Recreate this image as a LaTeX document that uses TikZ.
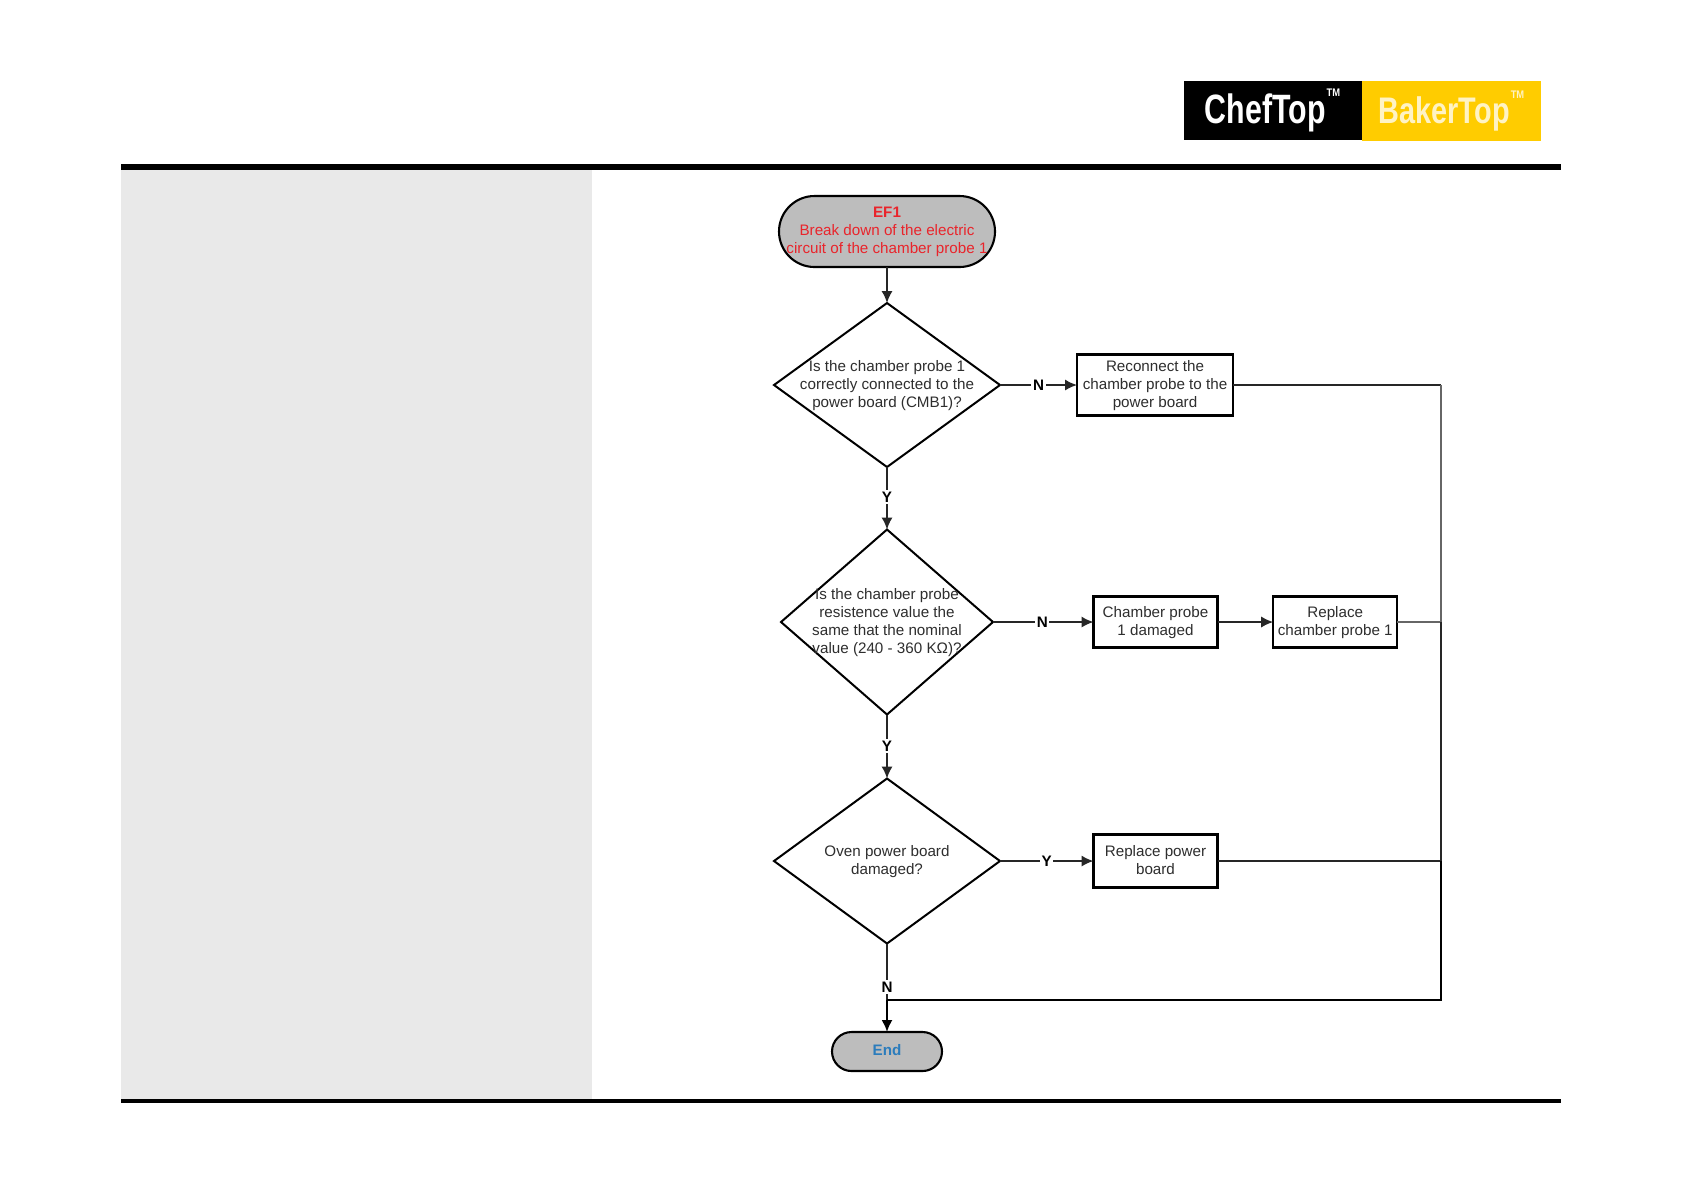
\documentclass[tikz,border=0pt]{standalone}
\usepackage{fontspec}
\setmainfont{Liberation Sans}
\usetikzlibrary{shapes.geometric,shapes.misc,arrows.meta}
\definecolor{ink}{HTML}{2E2E2E}
\definecolor{panel}{HTML}{E9E9E9}
\definecolor{termfill}{HTML}{BDBDBD}
\definecolor{redtxt}{HTML}{E9242B}
\definecolor{bluetxt}{HTML}{2B7CBC}
\definecolor{logoyellow}{HTML}{FFCC00}
\definecolor{logopale}{HTML}{FFF3C4}
\newcommand{\ztext}[1]{\makebox[0pt]{\raisebox{-0.32em}[0pt][0pt]{\begin{tabular}[c]{@{}c@{}}#1\end{tabular}}}}
\tikzset{
  body/.style={font=\fontsize{7.6pt}{9pt}\selectfont,text=ink,inner sep=0pt,outer sep=0pt},
  decision/.style={body,diamond,draw=black,line width=1pt,fill=white},
  procbox/.style={body,rectangle,draw=black,line width=1.05pt,fill=white},
  terminal/.style={body,rounded rectangle,draw=black,line width=1.05pt,fill=termfill},
  flow/.style={draw=black!85,line width=.9pt,-{Latex[length=6pt,width=5.6pt]}},
  plain/.style={draw=black!85,line width=1pt},
  trunklight/.style={draw=black!60,line width=1pt},
  trunkdark/.style={draw=black,line width=1.3pt},
  lab/.style={font=\fontsize{7.6pt}{9pt}\selectfont\bfseries,text=black,fill=white,inner sep=.8pt},
}
\begin{document}
\begin{tikzpicture}[x=0.5pt,y=-0.5pt]
\useasboundingbox (0,0) rectangle (1684,1191);
\fill[white] (0,0) rectangle (1684,1191);
% page furniture
\fill[panel] (121,168) rectangle (592,1100);
\fill[black] (121,164) rectangle (1561,170);
\fill[black] (121,1099) rectangle (1561,1103);
% logo
\node[rectangle,fill=black,minimum width=89pt,minimum height=29.5pt,inner sep=0pt,text=white,font=\fontsize{20.5pt}{20pt}\selectfont\bfseries] (chef) at (1272.5,110.5)
  {\raisebox{.03em}{\scalebox{.74}[1]{ChefTop}}\hspace{.5pt}\raisebox{.68em}{\fontsize{5.5pt}{6pt}\selectfont\scalebox{.85}[1]{TM}}};
\node[rectangle,fill=logoyellow,minimum width=89.5pt,minimum height=30pt,inner sep=0pt,text=logopale,font=\fontsize{18.5pt}{20pt}\selectfont\bfseries] (baker) at (1451.5,111)
  {\raisebox{-.08em}{\scalebox{.78}[1]{BakerTop}}\hspace{.5pt}\raisebox{.6em}{\fontsize{5.5pt}{6pt}\selectfont\scalebox{.85}[1]{TM}}};
% flow nodes
\node[terminal,minimum width=108pt,minimum height=35.5pt] (start) at (887,231.5)
  {\ztext{\textcolor{redtxt}{\textbf{EF1}}\\\textcolor{redtxt}{Break down of the electric}\\\textcolor{redtxt}{circuit of the chamber probe 1}}};
\node[decision,minimum width=113pt,minimum height=82pt] (d1) at (887,385)
  {\ztext{Is the chamber probe 1\\correctly connected to the\\power board (CMB1)?}};
\node[procbox,minimum width=78pt,minimum height=30.5pt] (b1) at (1155,385)
  {\ztext{Reconnect the\\chamber probe to the\\power board}};
\node[decision,minimum width=106pt,minimum height=92.5pt] (d2) at (887,622)
  {\ztext{Is the chamber probe\\resistence value the\\same that the nominal\\value (240 - 360 KΩ)?}};
\node[procbox,minimum width=62pt,minimum height=25.5pt] (b2) at (1155.5,622)
  {\ztext{Chamber probe\\1 damaged}};
\node[procbox,minimum width=62pt,minimum height=25.5pt] (b3) at (1335.2,622)
  {\ztext{Replace\\chamber probe 1}};
\node[decision,minimum width=113pt,minimum height=82.5pt] (d3) at (887,861)
  {\ztext{Oven power board\\damaged?}};
\node[procbox,minimum width=62pt,minimum height=26.5pt] (b4) at (1155.5,861)
  {\ztext{Replace power\\board}};
\node[terminal,minimum width=55pt,minimum height=19.5pt] (stop) at (887,1051.5)
  {\ztext{\textcolor{bluetxt}{\textbf{End}}}};
% junctions
\coordinate (m) at (d3.south |- 0,1000);
\coordinate (t1) at (1441,385);
\coordinate (t2) at (1441,622);
\coordinate (t3) at (1441,861);
\coordinate (t4) at (1441,1000);
% connectors
\draw[flow] (start) -- (d1);
\draw[flow] (d1) -- node[lab,pos=.5] (ln1) {N} (b1);
\draw[flow] (d1) -- node[lab,pos=.48] (ly1) {Y} (d2);
\draw[flow] (d2) -- node[lab,pos=.49] (ln2) {N} (b2);
\draw[flow] (b2) -- (b3);
\draw[flow] (d2) -- node[lab,pos=.49] (ly2) {Y} (d3);
\draw[flow] (d3) -- node[lab,pos=.5] (ly3) {Y} (b4);
\draw[plain] (d3) -- node[lab,pos=.77] (ln3) {N} (m);
\draw[plain] (b1) -- (t1);
\draw[trunklight] (t1) -- (t2);
\draw[trunklight] (b3) -- (t2);
\draw[plain] (t2) -- (t3);
\draw[plain] (b4) -- (t3);
\draw[trunkdark,line join=miter] (t3) -- (t4) -- (m);
\draw[flow,draw=black,line width=1.3pt] (m) -- (stop);
\end{tikzpicture}
\end{document}
